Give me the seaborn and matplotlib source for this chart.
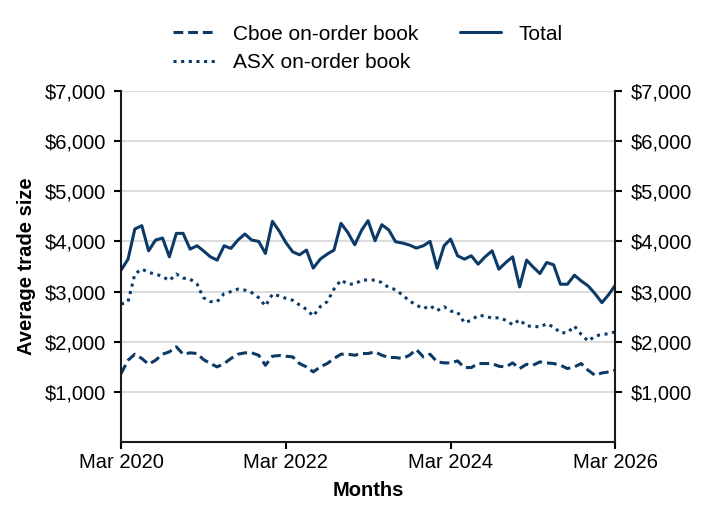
import pandas as pd
import seaborn as sns
import matplotlib.pyplot as plt
import matplotlib.dates as mdates
from matplotlib.ticker import FuncFormatter

months = pd.date_range("2020-03-01", periods=73, freq="MS")

cboe = [1367, 1633, 1753, 1667, 1553, 1633, 1753, 1800, 1900, 1753,
        1780, 1767, 1647, 1567, 1500, 1567, 1667, 1753, 1780, 1780,
        1733, 1533, 1713, 1727, 1713, 1700, 1567, 1500, 1400, 1500,
        1567, 1667, 1753, 1753, 1733, 1767, 1767, 1800, 1733, 1687,
        1687, 1667, 1733, 1847, 1700, 1753, 1600, 1580, 1580, 1620,
        1487, 1487, 1567, 1567, 1567, 1513, 1500, 1580, 1467, 1553,
        1533, 1600, 1580, 1567, 1533, 1467, 1500, 1567, 1433, 1333,
        1380, 1400, 1433]

asx = [2750, 2800, 3350, 3450, 3380, 3350, 3300, 3220, 3350, 3270,
       3250, 3150, 2880, 2800, 2800, 2960, 3000, 3050, 3030, 2980,
       2880, 2713, 2950, 2913, 2867, 2827, 2733, 2647, 2513, 2700,
       2800, 3050, 3230, 3150, 3150, 3230, 3230, 3230, 3180, 3080,
       3040, 2930, 2813, 2733, 2660, 2720, 2620, 2700, 2613, 2590,
       2380, 2430, 2527, 2513, 2470, 2480, 2430, 2340, 2440, 2313,
       2313, 2293, 2360, 2293, 2180, 2180, 2313, 2147, 2013, 2113,
       2147, 2160, 2200]

total = [3427, 3647, 4247, 4313, 3813, 4027, 4067, 3693, 4160, 4160,
         3847, 3913, 3813, 3693, 3627, 3913, 3860, 4027, 4147, 4027,
         4000, 3760, 4400, 4200, 3980, 3793, 3733, 3827, 3467, 3647,
         3747, 3827, 4360, 4180, 3933, 4227, 4413, 4013, 4333, 4227,
         3993, 3967, 3927, 3867, 3913, 4000, 3467, 3913, 4047, 3713,
         3647, 3713, 3547, 3693, 3813, 3447, 3580, 3693, 3093, 3627,
         3493, 3360, 3580, 3533, 3147, 3147, 3327, 3213, 3113, 2960,
         2780, 2947, 3127]

series_names = ["Cboe on-order book", "ASX on-order book", "Total"]

df = pd.concat([
    pd.DataFrame({"Month": months, "Value": vals, "Series": name})
    for name, vals in zip(series_names, [cboe, asx, total])
])

navy = "#0b3a66"

sns.set_style("white")
plt.rcParams["font.family"] = ["Liberation Sans", "DejaVu Sans"]
plt.rcParams["text.color"] = "black"
plt.rcParams["axes.labelcolor"] = "black"
plt.rcParams["xtick.color"] = "black"
plt.rcParams["ytick.color"] = "black"

fig = plt.figure(figsize=(7.08, 5.13), dpi=100)
ax = fig.add_axes([0.171, 0.138, 0.698, 0.685])

ax.yaxis.grid(True, color="#d6d6d6", linewidth=1.2)
ax.set_axisbelow(True)

sns.lineplot(data=df, x="Month", y="Value", hue="Series", style="Series",
             hue_order=series_names, style_order=series_names,
             palette=[navy] * 3,
             dashes={"Cboe on-order book": (3.2, 1.6),
                     "ASX on-order book": (1, 1.5),
                     "Total": ""},
             linewidth=2.2, ax=ax)

ax.set_ylim(0, 7000)
ax.set_yticks(range(1000, 7001, 1000))
ax.yaxis.set_major_formatter(FuncFormatter(lambda v, p: f"${v:,.0f}"))
ax.tick_params(axis="y", which="both", left=True, right=True,
               labelleft=True, labelright=True, direction="out",
               length=5, width=1.5, pad=6, labelsize=14.5, colors="black")
ax.tick_params(axis="x", bottom=True, direction="out", length=5,
               width=1.5, pad=3, labelsize=14.5, colors="black")

ax.set_xlim(months[0], months[-1])
ax.set_xticks([pd.Timestamp(f"{y}-03-01") for y in (2020, 2022, 2024, 2026)])
ax.xaxis.set_major_formatter(mdates.DateFormatter("%b %Y"))

for side in ["left", "right", "bottom"]:
    ax.spines[side].set_visible(True)
    ax.spines[side].set_color("#1a1a1a")
    ax.spines[side].set_linewidth(1.5)
ax.spines["top"].set_visible(False)

ax.set_xlabel("Months", fontsize=14.5, fontweight="bold", labelpad=6)
ax.set_ylabel("Average trade size", fontsize=14.5, fontweight="bold", labelpad=6)

handles, labels = ax.get_legend_handles_labels()
ax.legend(handles, labels, ncol=2, frameon=False, fontsize=15,
          loc="lower center", bbox_to_anchor=(0.5, 1.0),
          handlelength=2.0, columnspacing=2.0, handletextpad=0.85,
          labelspacing=0.45)

fig.savefig("out.png", dpi=100)
